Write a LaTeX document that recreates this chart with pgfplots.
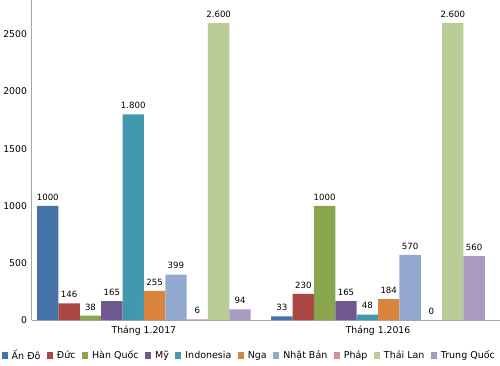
\documentclass[border=0pt]{standalone}
\usepackage{fontspec}
\setmainfont{DejaVu Sans}
\usepackage{pgfplots}
\pgfplotsset{compat=1.18}
\definecolor{c1}{HTML}{4572A7}
\definecolor{c2}{HTML}{AA4643}
\definecolor{c3}{HTML}{89A54E}
\definecolor{c4}{HTML}{71588F}
\definecolor{c5}{HTML}{4198AF}
\definecolor{c6}{HTML}{DB843D}
\definecolor{c7}{HTML}{93A9CF}
\definecolor{c8}{HTML}{D19392}
\definecolor{c9}{HTML}{B9CD96}
\definecolor{c10}{HTML}{A99BBD}
\begin{document}
\begin{tikzpicture}
\begin{axis}[
  scale only axis, width=467bp, height=319bp,
  ybar=0pt, bar width=21.3bp,
  xmin=-0.48, xmax=1.52, ymin=0, ymax=2800,
  axis lines*=left,
  axis line style={gray!70},
  ytick={0,500,...,2500}, xtick={0,1},
  xticklabels={Tháng 1.2017, Tháng 1.2016},
  major tick length=0pt,
  tick label style={font=\fontsize{9.3}{10}\selectfont, black},
  /pgf/number format/assume math mode=true,
  yticklabel style={/pgf/number format/1000 sep={}, xshift=-1bp},
  xticklabel style={yshift=-2bp},
  nodes near coords, point meta=explicit symbolic,
  every node near coord/.append style={font=\fontsize{8.6}{10}\selectfont, black, yshift=2bp},
  legend columns=10,
  legend style={draw=none, at={(0.465,-0.08)}, anchor=north, inner xsep=0pt,
    font=\fontsize{9.5}{10}\selectfont, /tikz/every even column/.append style={column sep=4.5bp},
    /tikz/every odd column/.append style={column sep=2bp}},
  legend image code/.code={\fill[#1] (0bp,-3bp) rectangle (6bp,3bp);},
  legend cell align=left,
]
\addplot[fill=c1, draw=none] coordinates {(0,1000) [1000] (1,33) [33]};
\addplot[fill=c2, draw=none] coordinates {(0,146) [146] (1,230) [230]};
\addplot[fill=c3, draw=none] coordinates {(0,38) [38] (1,1000) [1000]};
\addplot[fill=c4, draw=none] coordinates {(0,165) [165] (1,165) [165]};
\addplot[fill=c5, draw=none] coordinates {(0,1800) [1.800] (1,48) [48]};
\addplot[fill=c6, draw=none] coordinates {(0,255) [255] (1,184) [184]};
\addplot[fill=c7, draw=none] coordinates {(0,399) [399] (1,570) [570]};
\addplot[fill=c8, draw=none] coordinates {(0,6) [6] (1,0) [0]};
\addplot[fill=c9, draw=none] coordinates {(0,2600) [2.600] (1,2600) [2.600]};
\addplot[fill=c10, draw=none] coordinates {(0,94) [94] (1,560) [560]};
\legend{Ấn Đô, Đức, Hàn Quốc, Mỹ, Indonesia, Nga, Nhật Bản, Pháp, Thái Lan, Trung Quốc}
\end{axis}
\end{tikzpicture}
\end{document}
